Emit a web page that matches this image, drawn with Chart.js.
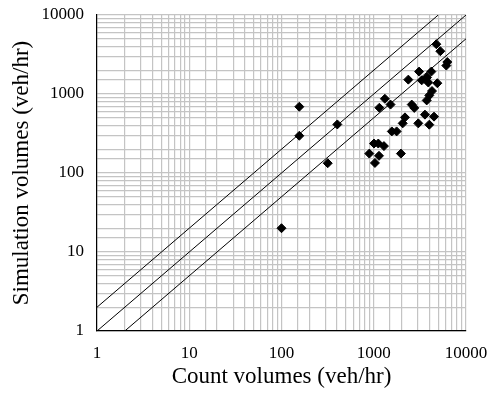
<!DOCTYPE html>
<html><head><meta charset="utf-8">
<script src="https://cdn.jsdelivr.net/npm/chart.js@4"></script>
<style>html,body{margin:0;padding:0;background:#fff}</style>
</head><body>
<canvas id="c" width="490" height="398"></canvas>
<script>
const countVolumes = [100,156,156,403,317,4770,5270,6270,6120,3100,2370,4210,3780,3310,3900,4890,4280,4000,3750,1320,1520,1150,2580,2750,2180,2060,3590,4500,3040,4000,1570,1770,1006,1120,1290,895,1140,1030,1970];
const simVolumes   = [20,690,296,412,133,4270,3480,2540,2290,1920,1520,1920,1620,1490,1400,1370,1090,960,830,870,735,670,735,667,506,425,548,517,425,409,336,336,236,236,219,176,165,134,176];
const tickLabels = [1,10,100,1000,10000];
const upperLineX = [1,5000],  upperLineY = [2,10000];
const equalLineX = [1,10000], equalLineY = [1,10000];
const lowerLineX = [2,10000], lowerLineY = [1,5000];

const pts = countVolumes.map((x,i)=>({x, y: simVolumes[i]}));
const mk = (xs,ys)=>xs.map((x,i)=>({x,y:ys[i]}));
const lineDs = (d)=>({type:'line', data:d, borderColor:'#000', borderWidth:1, pointRadius:0, fill:false, order:2});
const FONT = '"Liberation Serif", "DejaVu Serif", serif';

new Chart(document.getElementById('c'), {
  type:'scatter',
  data:{datasets:[
    {data:pts, pointStyle:'rectRot', pointRadius:4.5, backgroundColor:'#000', borderColor:'#000', borderWidth:1, order:1},
    lineDs(mk(upperLineX,upperLineY)),
    lineDs(mk(equalLineX,equalLineY)),
    lineDs(mk(lowerLineX,lowerLineY))
  ]},
  options:{
    responsive:false, animation:false,
    layout:{padding:{left:0,top:15,right:24,bottom:0}},
    plugins:{legend:{display:false}, tooltip:{enabled:false}},
    scales:{
      x:{type:'logarithmic', min:1, max:10000,
        grid:{color:'#c4c4c4', lineWidth:1.2, drawTicks:false},
        border:{color:'#000', width:1.2},
        ticks:{autoSkip:false, maxRotation:0, padding:12, color:'#000', font:{family:FONT,size:17},
          callback:(v)=>tickLabels.includes(v)?String(v):''},
        title:{display:true, text:'Count volumes (veh/hr)', color:'#000', font:{family:FONT,size:23}, padding:{top:0,bottom:7}},
        afterFit:(s)=>{s.height = 67; s.paddingLeft=0; s.paddingRight=0;}
      },
      y:{type:'logarithmic', min:1, max:10000,
        grid:{color:'#c4c4c4', lineWidth:1.2, drawTicks:false},
        border:{color:'#000', width:1.2},
        ticks:{autoSkip:false, padding:13, color:'#000', font:{family:FONT,size:17},
          callback:(v)=>tickLabels.includes(v)?String(v):''},
        title:{display:true, text:'Simulation volumes (veh/hr)', color:'#000', font:{family:FONT,size:23}, padding:{top:8,bottom:0}},
        afterFit:(s)=>{s.width = 97; s.paddingTop=0; s.paddingBottom=0;}
      }
    }
  }
});
</script>
</body></html>
